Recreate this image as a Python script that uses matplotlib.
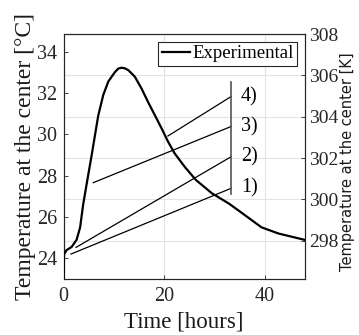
import matplotlib
matplotlib.use("Agg")
import matplotlib.pyplot as plt

# Experimental temperature at the sample centre
time_h = [0, 0.1, 0.6, 1.6, 2.6, 3.3, 3.9, 4.6, 5.6, 6.25, 6.9, 7.9, 8.9,
          10.2, 10.9, 11.55, 12.2, 12.9, 14.2, 15.5, 16.8, 18.15, 19.5, 20.8,
          22.1, 24.1, 26.3, 29.5, 32.9, 34.9, 39.4, 42.8, 47.9]
temp_c = [23.0, 24.2, 24.4, 24.55, 24.9, 25.5, 26.6, 27.6, 29.0, 29.95,
          30.9, 31.9, 32.55, 33.0, 33.18, 33.22, 33.19, 33.1, 32.78, 32.22,
          31.57, 30.93, 30.29, 29.64, 29.08, 28.43, 27.8, 27.15, 26.65, 26.3,
          25.5, 25.2, 24.9]

# Annotation lines 1)..4): start (hours, degC) -> end at the bracket
ann_labels = ["1)", "2)", "3)", "4)"]
ann_t0 = [1.49, 2.48, 5.91, 20.78]
ann_y0 = [24.21, 24.53, 27.66, 29.92]
ann_t1 = [33.37, 33.37, 33.37, 33.37]
ann_y1 = [27.39, 28.92, 30.38, 31.83]
bracket_t = [33.37, 33.37]
bracket_y = [27.10, 32.55]
label_t = 35.3

xticks = [0, 20, 40]
yticks_c = [24, 26, 28, 30, 32, 34]
yticks_k = [298, 300, 302, 304, 306, 308]
ylim_c = (23.0, 34.85)
KELVIN = 273.15

serif = ["Liberation Serif", "DejaVu Serif"]
plt.rcParams["font.family"] = serif
axcol = "#262626"
gridcol = "#e3e3e3"

fig = plt.figure(figsize=(3.59, 3.35), dpi=100)
ax = fig.add_axes([0.177, 0.167, 0.672, 0.7315])
ax2 = ax.twinx()
# left axes on top so the right-axis grid stays behind the curve
ax.set_zorder(ax2.get_zorder() + 1)
ax.patch.set_visible(False)

ax.plot(time_h, temp_c, color="k", lw=1.6, label="Experimental", zorder=3)
for t0, y0, t1, y1 in zip(ann_t0, ann_y0, ann_t1, ann_y1):
    ax.plot([t0, t1], [y0, y1], color="k", lw=0.9, zorder=2)
ax.plot(bracket_t, bracket_y, color="#555555", lw=1.2, zorder=2)
for lab, y in zip(ann_labels, ann_y1):
    ax.text(label_t, y, lab, fontsize=14.5, ha="left", va="center",
            color="k")

ax.set_xlim(0, 48)
ax.set_ylim(*ylim_c)
ax2.set_ylim(ylim_c[0] + KELVIN, ylim_c[1] + KELVIN)
ax.set_xticks(xticks)
ax.set_yticks(yticks_c)
ax2.set_yticks(yticks_k)

ax.grid(True, axis="x", color=gridcol, lw=0.8)
ax2.grid(True, axis="y", color=gridcol, lw=0.8)

for a in (ax, ax2):
    for s in a.spines.values():
        s.set_color(axcol)
        s.set_linewidth(0.8)
ax.tick_params(direction="in", length=3, width=0.6, color=axcol,
               labelsize=14.5, labelcolor=axcol, pad=4.5)
ax.tick_params(axis="x", pad=5.5)
ax2.tick_params(direction="in", length=3, width=0.6, color=axcol,
                labelsize=14, labelcolor=axcol, pad=3.2)

ax.set_xlabel("Time [hours]", fontsize=16.5, color="#1a1a1a", labelpad=4)
ax.set_ylabel("Temperature at the center [°C]", fontsize=17,
              color="#1a1a1a", labelpad=1)
ax2.set_ylabel("Temperature at the center [K]", fontsize=10.5,
               family="DejaVu Sans", color="#1a1a1a")
ax2.yaxis.set_label_coords(1.148, 0.478)

leg = ax.legend(loc="upper right", fontsize=13.5, handlelength=1.5,
                handletextpad=0.1, borderpad=0.2, borderaxespad=0.4,
                fancybox=False, framealpha=1)
leg.get_frame().set_edgecolor(axcol)
leg.get_frame().set_linewidth(0.8)

fig.savefig("out.png", dpi=100)
